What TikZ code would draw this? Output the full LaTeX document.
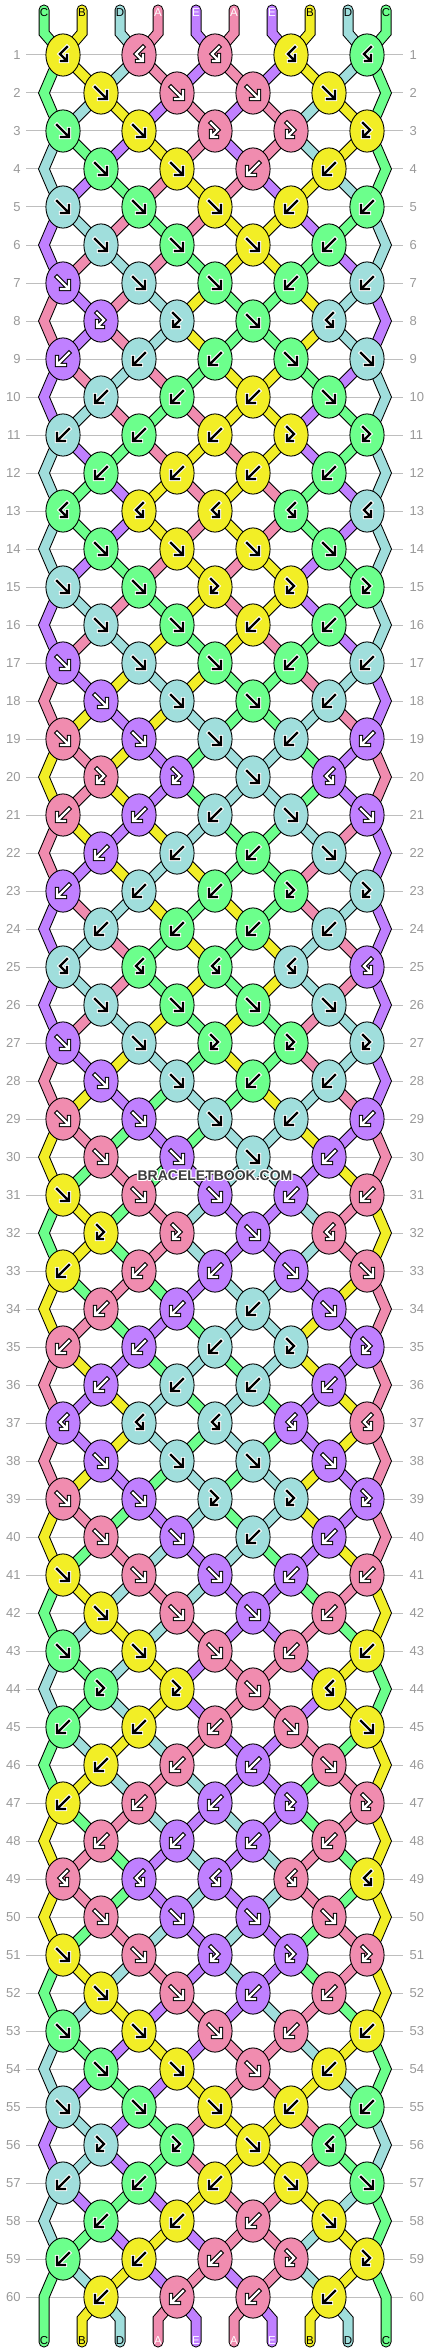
\documentclass[tikz,border=0pt]{standalone}
\usepackage{fontspec}
\setmainfont{Liberation Sans}
\pgfdeclarelayer{bg}
\pgfsetlayers{bg,main}

\definecolor{colA}{HTML}{F08CAF}
\definecolor{colB}{HTML}{F2EE26}
\definecolor{colC}{HTML}{6CFF8C}
\definecolor{colD}{HTML}{A0DEDC}
\definecolor{colE}{HTML}{C080FF}
\colorlet{arrA}{white}\colorlet{outA}{black}
\colorlet{arrE}{white}\colorlet{outE}{black}
\colorlet{arrB}{black}\colorlet{outB}{white}
\colorlet{arrC}{black}\colorlet{outC}{white}
\colorlet{arrD}{black}\colorlet{outD}{white}
\definecolor{rowgray}{HTML}{BEBEBE}
\definecolor{numgray}{HTML}{999999}
\definecolor{wmgray}{HTML}{3C3C3C}

\newcount\rr \newcount\pp \newcount\xx \newcount\yy

% string id -> colour letter
\expandafter\def\csname sc1\endcsname{C}
\expandafter\def\csname sc2\endcsname{B}
\expandafter\def\csname sc3\endcsname{D}
\expandafter\def\csname sc4\endcsname{A}
\expandafter\def\csname sc5\endcsname{E}
\expandafter\def\csname sc6\endcsname{A}
\expandafter\def\csname sc7\endcsname{E}
\expandafter\def\csname sc8\endcsname{B}
\expandafter\def\csname sc9\endcsname{D}
\expandafter\def\csname sc10\endcsname{C}

% knot types of the 12-row cycle: F forward, B backward, R forward-backward, L backward-forward
\expandafter\def\csname rt1\endcsname{LLLLL}
\expandafter\def\csname rt2\endcsname{FFFF}
\expandafter\def\csname rt3\endcsname{FFRRR}
\expandafter\def\csname rt4\endcsname{FFBB}
\expandafter\def\csname rt5\endcsname{FFFBB}
\expandafter\def\csname rt6\endcsname{FFFB}
\expandafter\def\csname rt7\endcsname{FFFBB}
\expandafter\def\csname rt8\endcsname{RRFL}
\expandafter\def\csname rt9\endcsname{BBBFF}
\expandafter\def\csname rt10\endcsname{BBBF}
\expandafter\def\csname rt11\endcsname{BBBRR}
\expandafter\def\csname rt12\endcsname{BBBB}

\def\addpt#1#2#3{\expandafter\xdef\csname path#1\endcsname{\csname path#1\endcsname -- (#2,#3)}}

\tikzset{glyphline/.style={line cap=rect,line join=miter}}
\def\glyph#1#2#3{%
  \if#1F\draw[glyphline,color=#2,line width=#3pt] (-6,-6) -- (5,5) (6,-2) -- (6,6) -- (-2,6);\fi
  \if#1B\draw[glyphline,color=#2,line width=#3pt] (6,-6) -- (-5,5) (-6,-2) -- (-6,6) -- (2,6);\fi
  \if#1R\draw[glyphline,color=#2,line width=#3pt] (-4,-8) -- (3,-1) -- (-3,5) (-4,0) -- (-4,6) -- (2,6);\fi
  \if#1L\draw[glyphline,color=#2,line width=#3pt] (4,-8) -- (-3,-1) -- (3,5) (4,0) -- (4,6) -- (-2,6);\fi
}
\def\drawknot#1#2#3#4{%
  \filldraw[fill=col#3,draw=black,line width=0.9pt] (#1,#2) ellipse [x radius=17.1,y radius=21.1];
  \begin{scope}[shift={(#1,#2)}]
    \glyph{#4}{out#3}{4.4}
    \glyph{#4}{arr#3}{2.3}
  \end{scope}}

\def\doswap{%
  \expandafter\xdef\csname pos\number\pp\endcsname{\strR}%
  \expandafter\xdef\csname pos\number\numexpr\pp+1\relax\endcsname{\strL}}

\def\doknot#1{%
  \xx=\numexpr 25+38*\pp\relax
  \edef\strL{\csname pos\number\pp\endcsname}%
  \edef\strR{\csname pos\number\numexpr\pp+1\relax\endcsname}%
  \addpt{\strL}{\number\xx}{\number\yy}%
  \addpt{\strR}{\number\xx}{\number\yy}%
  \if#1F\let\strSh\strL\else\if#1R\let\strSh\strL\else\let\strSh\strR\fi\fi
  \edef\kc{\csname sc\strSh\endcsname}%
  \edef\tmpk{\noexpand\drawknot{\number\xx}{\number\yy}{\kc}{#1}}\tmpk
  \if#1F\doswap\fi
  \if#1B\doswap\fi
  \global\advance\pp by 2\relax}

\def\iterknots#1{\ifx#1\relax\let\nextk\relax\else\def\nextk{\doknot{#1}\iterknots}\fi\nextk}

\def\edgeL{%
  \edef\strL{\csname pos1\endcsname}%
  \addpt{\strL}{53}{\number\numexpr\yy-21\relax}%
  \addpt{\strL}{44}{\number\yy}%
  \ifnum\rr<60 \addpt{\strL}{53}{\number\numexpr\yy+21\relax}\fi}
\def\edgeR{%
  \edef\strL{\csname pos10\endcsname}%
  \addpt{\strL}{377}{\number\numexpr\yy-21\relax}%
  \addpt{\strL}{386}{\number\yy}%
  \ifnum\rr<60 \addpt{\strL}{377}{\number\numexpr\yy+21\relax}\fi}

\def\dorow#1{%
  \global\rr=#1\relax
  \pgfmathtruncatemacro\mrow{mod(#1-1,12)+1}%
  \yy=\numexpr 17+38*#1\relax
  \ifodd\rr \global\pp=1\relax \else \global\pp=2\relax \edgeL\edgeR \fi
  \expandafter\expandafter\expandafter\iterknots\csname rt\mrow\endcsname\relax}

\tikzset{
  rownum/.style={text=numgray,font=\fontsize{13}{13}\selectfont,inner sep=0pt},
  strlabel/.style={font=\fontsize{11.5}{12}\selectfont,inner sep=0pt},
  wm/.style={font=\bfseries\fontsize{14}{14}\selectfont,inner sep=0pt},
  strout/.style={line width=11pt,black,line join=miter,line cap=round},
  strfill/.style={line width=9pt,line join=miter,line cap=round}
}

\begin{document}
\begin{tikzpicture}[x=1pt,y=-1pt]
\useasboundingbox (0,0) rectangle (430,2352);
\begin{pgfonlayer}{bg}
  \fill[white] (0,0) rectangle (430,2352);
  \foreach \rw in {1,...,60}{\draw[rowgray,line width=1pt] (26,{17+38*\rw}) -- (403,{17+38*\rw});}
\end{pgfonlayer}

% initial strings
\foreach \pq in {1,...,10}{%
  \expandafter\xdef\csname pos\pq\endcsname{\pq}%
  \expandafter\xdef\csname path\pq\endcsname{(\the\numexpr 6+38*\pq\relax,10) -- (\the\numexpr 6+38*\pq\relax,33)}%
  \edef\ltr{\csname sc\pq\endcsname}%
  \node[strlabel,text=arr\ltr] (top\pq) at ({6+38*\pq},12.5) {\ltr};
}

% rows of knots
\foreach \rw in {1,...,60}{\dorow{\rw}}

% bottom ends
\foreach \pq in {1,...,10}{%
  \edef\strL{\csname pos\pq\endcsname}%
  \ifnum\pq=1 \else\ifnum\pq=10 \else
    \addpt{\strL}{\the\numexpr 6+38*\pq\relax}{2319}%
  \fi\fi
  \addpt{\strL}{\the\numexpr 6+38*\pq\relax}{2342}%
}

\begin{pgfonlayer}{bg}
  \foreach \sq in {1,...,10}{%
    \edef\tmp{\noexpand\draw[strout] \csname path\sq\endcsname;}\tmp}
  \foreach \sq in {1,...,10}{%
    \edef\ltr{\csname sc\sq\endcsname}%
    \edef\tmp{\noexpand\draw[strfill,color=col\ltr] \csname path\sq\endcsname;}\tmp}
\end{pgfonlayer}

% bottom labels
\foreach \pq in {1,...,10}{%
  \edef\strL{\csname pos\pq\endcsname}%
  \edef\ltr{\csname sc\strL\endcsname}%
  \node[strlabel,text=arr\ltr] (bot\pq) at ({6+38*\pq},2340.7) {\ltr};
}

% row numbers
\foreach \rw in {1,...,60}{%
  \node[rownum,anchor=east] (nl\rw) at (20.7,{17+38*\rw}) {\rw};
  \node[rownum,anchor=west] (nr\rw) at (409.5,{17+38*\rw}) {\rw};
}

% watermark
\foreach \dx/\dy in {-1.2/0,1.2/0,0/-1.2,0/1.2,-0.9/-0.9,0.9/0.9,-0.9/0.9,0.9/-0.9}{%
  \node[wm,text=white] at ({215+\dx},{1175.5+\dy}) {BRACELETBOOK.COM};}
\node[wm,text=wmgray] (wmark) at (215,1175.5) {BRACELETBOOK.COM};
\end{tikzpicture}
\end{document}
